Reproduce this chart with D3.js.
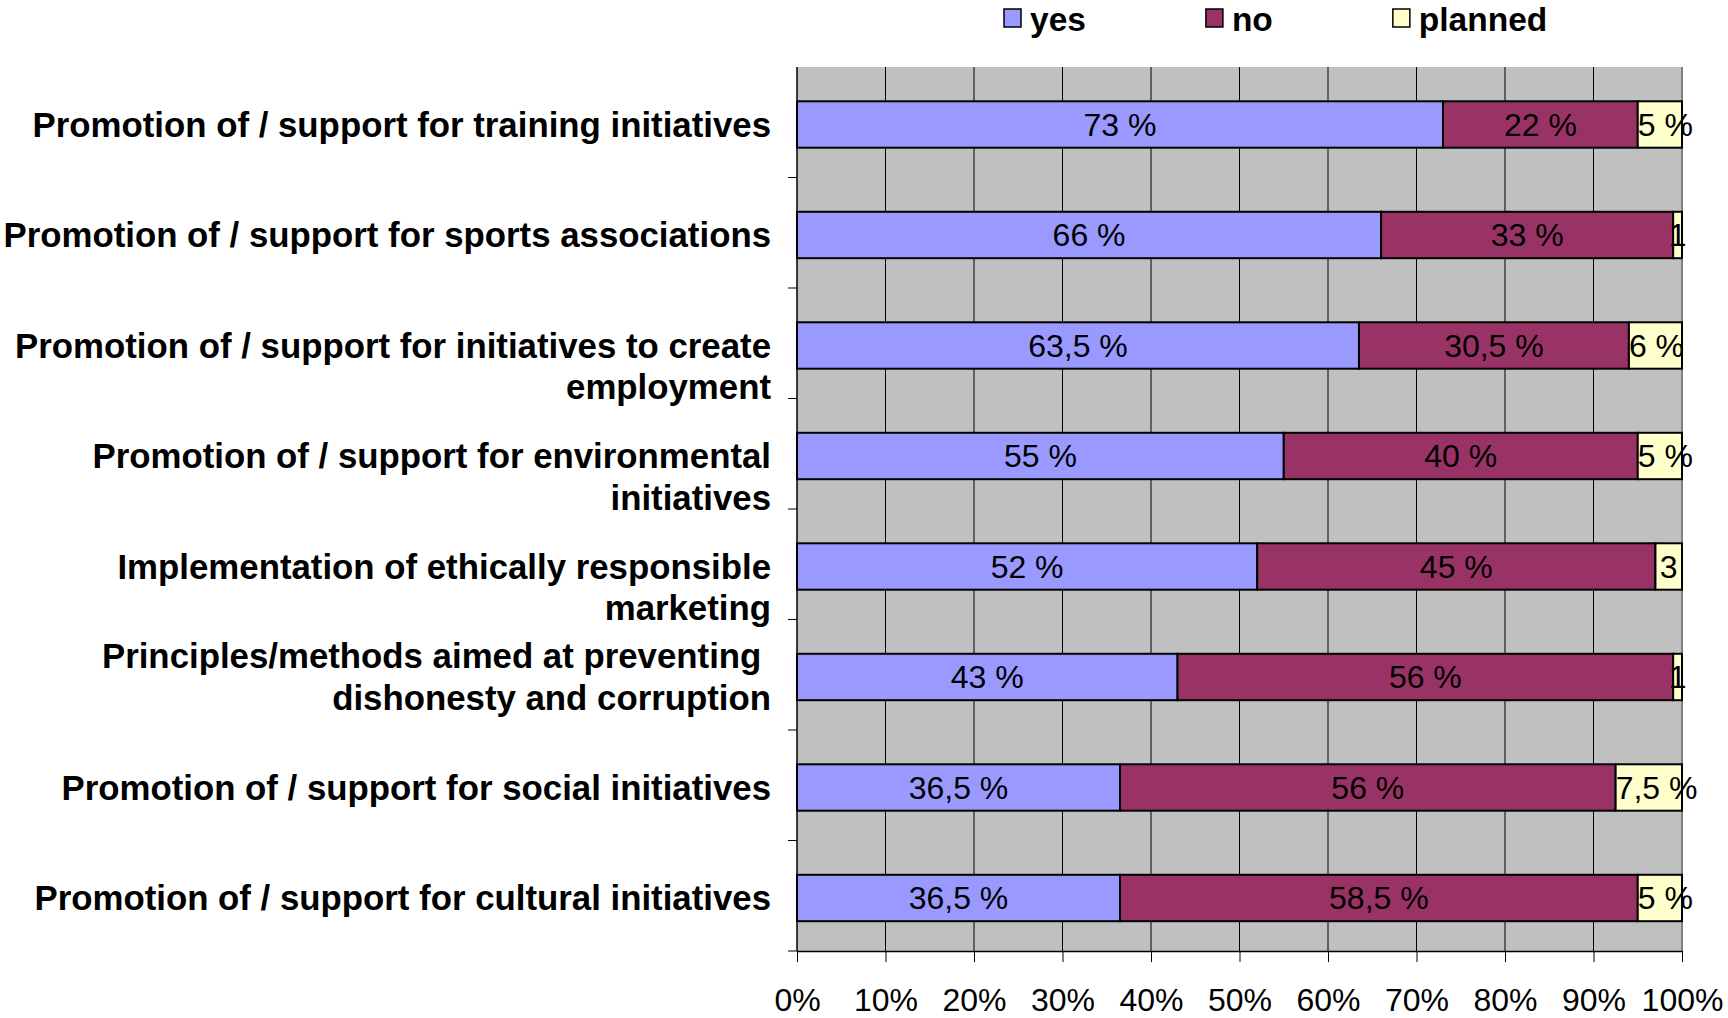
<!DOCTYPE html>
<html>
<head>
<meta charset="utf-8">
<script src="https://cdn.jsdelivr.net/npm/d3@7"></script>
<style>
  html, body { margin: 0; padding: 0; background: #ffffff; }
  svg { display: block; }
  text { font-family: "Liberation Sans", Arial, Helvetica, sans-serif; }
</style>
</head>
<body>
<svg id="chart" width="1728" height="1018"></svg>
<script>
// ---- data ----
const categories = [
  "Promotion of / support for training initiatives",
  "Promotion of / support for sports associations",
  "\nPromotion of / support for initiatives to create\nemployment",
  "\nPromotion of / support for environmental\ninitiatives",
  "\nImplementation of ethically responsible\nmarketing",
  "Principles/methods aimed at preventing \ndishonesty and corruption",
  "Promotion of / support for social initiatives",
  "Promotion of / support for cultural initiatives"
];
const seriesNames = ["yes", "no", "planned"];
const yesValues = [73, 66, 63.5, 55, 52, 43, 36.5, 36.5];
const noValues = [22, 33, 30.5, 40, 45, 56, 56, 58.5];
const plannedValues = [5, 1, 6, 5, 3, 1, 7.5, 5];
const seriesColors = ["#9999FF", "#993366", "#FFFFCC"];
const xTickValues = [0, 10, 20, 30, 40, 50, 60, 70, 80, 90, 100];

// ---- layout ----
const W = 1728, H = 1018;
const plot = { left: 797, right: 1682, top: 67, bottom: 951 };
const svg = d3.select("#chart");
svg.append("rect").attr("width", W).attr("height", H).attr("fill", "#fff");

const x = d3.scaleLinear().domain([0, 100]).range([plot.left, plot.right]);
const y = d3.scaleBand().domain(d3.range(categories.length))
  .range([plot.top, plot.bottom]).paddingInner(0.58).paddingOuter(0.29).align(0.535);

const rows = categories.map((c, i) => ({ i, yes: yesValues[i], no: noValues[i], planned: plannedValues[i] }));
const stacked = d3.stack().keys(seriesNames)(rows);

// plot background
svg.append("rect")
  .attr("x", plot.left).attr("y", plot.top)
  .attr("width", plot.right - plot.left).attr("height", plot.bottom - plot.top)
  .attr("fill", "#C0C0C0");

// vertical gridlines
svg.append("g").selectAll("line")
  .data(xTickValues.filter(v => v > 0 && v < 100))
  .join("line")
  .attr("x1", d => x(d)).attr("x2", d => x(d))
  .attr("y1", plot.top).attr("y2", plot.bottom)
  .attr("stroke", "#000").attr("stroke-width", 1);

// right plot border
svg.append("line")
  .attr("x1", plot.right).attr("x2", plot.right)
  .attr("y1", plot.top).attr("y2", plot.bottom)
  .attr("stroke", "#808080").attr("stroke-width", 2);

// bars
const fmt = v => String(v).replace(".", ",");
const groups = svg.append("g").selectAll("g")
  .data(stacked).join("g")
  .attr("fill", (d, k) => seriesColors[k]);

groups.selectAll("rect")
  .data(d => d)
  .join("rect")
  .attr("x", d => x(d[0]))
  .attr("y", d => y(d.data.i))
  .attr("width", d => x(d[1]) - x(d[0]))
  .attr("height", y.bandwidth())
  .attr("stroke", "#000").attr("stroke-width", 2);

// value labels
const labelLayer = svg.append("g");
stacked.forEach(s => {
  s.forEach(d => {
    const v = d[1] - d[0];
    const x0 = x(d[0]), x1 = x(d[1]);
    const txt = v < 4 ? fmt(v) : fmt(v) + " %";
    const t = labelLayer.append("text")
      .attr("y", y(d.data.i) + y.bandwidth() / 2)
      .attr("dy", "0.35em")
      .attr("font-size", 32)
      .attr("fill", "#000")
      .style("white-space", "pre")
      .text(txt);
    const w = t.node().getComputedTextLength();
    if (w > (x1 - x0) && v >= 4) {
      t.attr("x", x0).attr("text-anchor", "start");
    } else {
      t.attr("x", (x0 + x1) / 2).attr("text-anchor", "middle");
    }
  });
});

// left axis line and ticks
svg.append("line")
  .attr("x1", plot.left).attr("x2", plot.left)
  .attr("y1", plot.top).attr("y2", plot.bottom)
  .attr("stroke", "#000").attr("stroke-width", 1.5);
const step = y.step();
svg.append("g").selectAll("line")
  .data(d3.range(1, categories.length + 1))
  .join("line")
  .attr("x1", plot.left - 9).attr("x2", plot.left)
  .attr("y1", k => plot.top + k * step).attr("y2", k => plot.top + k * step)
  .attr("stroke", "#000").attr("stroke-width", 1);

// category labels
const lineH = 41.5;
const catG = svg.append("g");
categories.forEach((c, i) => {
  const lines = c.split("\n");
  const cy = y(i) + y.bandwidth() / 2;
  const n = lines.length;
  lines.forEach((ln, j) => {
    if (!ln) return;
    catG.append("text")
      .attr("x", 771)
      .attr("y", cy + (j - (n - 1) / 2) * lineH)
      .attr("dy", "0.35em")
      .attr("text-anchor", "end")
      .attr("font-size", 34.8)
      .attr("font-weight", "bold")
      .attr("fill", "#000")
      .style("white-space", "pre")
      .text(ln);
  });
});

// bottom axis
const xAxis = d3.axisBottom(x)
  .tickValues(xTickValues)
  .tickFormat(d => d + "%")
  .tickSize(11)
  .tickSizeOuter(0)
  .tickPadding(26);
const ax = svg.append("g")
  .attr("transform", `translate(0,${plot.bottom})`)
  .call(xAxis);
ax.select(".domain").attr("stroke", "#000").attr("stroke-width", 1.5);
ax.selectAll(".tick line").attr("stroke", "#000");
ax.selectAll(".tick text")
  .attr("font-size", 32)
  .attr("font-family", "\"Liberation Sans\", Arial, sans-serif")
  .attr("fill", "#000");

// legend
const legend = svg.append("g");
let lx = 1004;
seriesNames.forEach((name, k) => {
  legend.append("rect")
    .attr("x", lx).attr("y", 9)
    .attr("width", 17).attr("height", 18)
    .attr("fill", seriesColors[k])
    .attr("stroke", "#000").attr("stroke-width", 1.5);
  const t = legend.append("text")
    .attr("x", lx + 26).attr("y", 31)
    .attr("font-size", 33.5)
    .attr("font-weight", "bold")
    .attr("fill", "#000")
    .text(name);
  lx += 26 + t.node().getComputedTextLength() + 120;
});
</script>
</body>
</html>
